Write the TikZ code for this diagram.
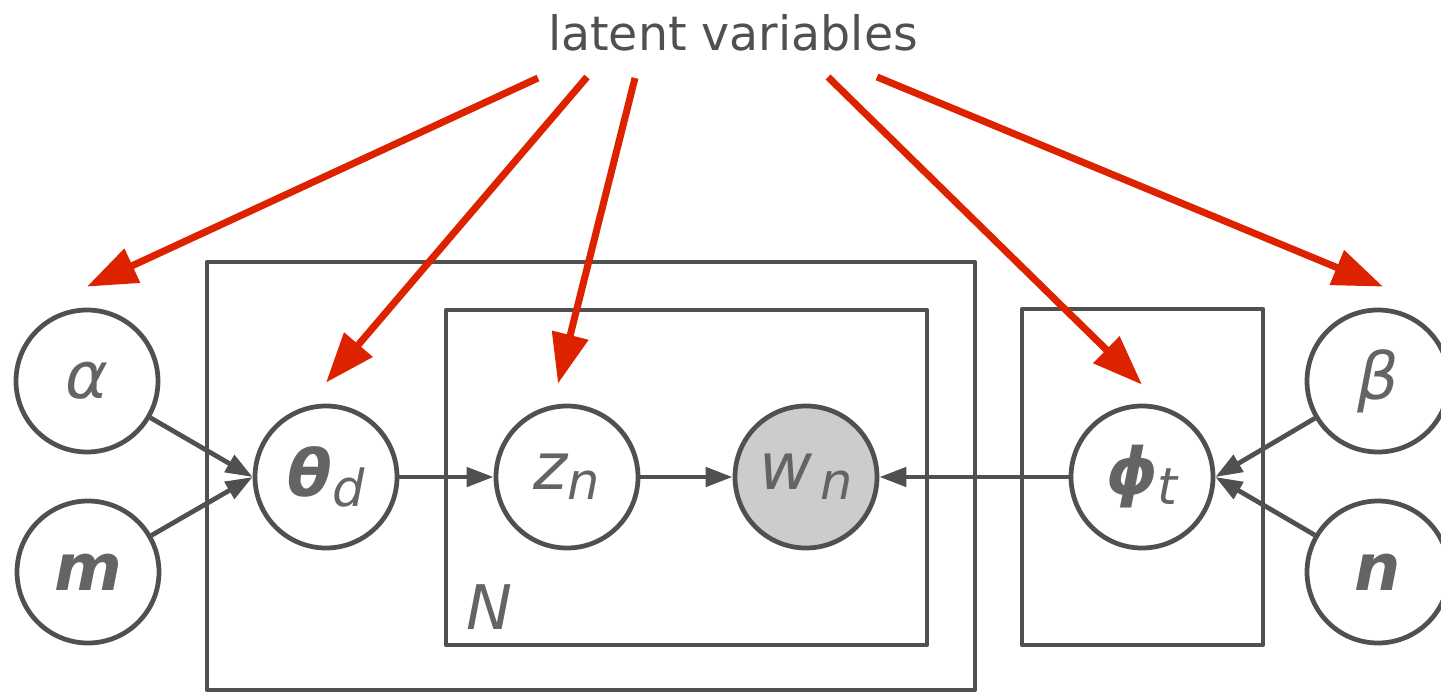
\documentclass[tikz,border=0pt]{standalone}
\usepackage{fontspec}
\setmainfont{DejaVu Sans}
\usetikzlibrary{arrows.meta}
\definecolor{linegray}{HTML}{505050}
\definecolor{textgray}{HTML}{646464}
\definecolor{obsgray}{HTML}{CCCCCC}
\definecolor{latentred}{HTML}{DD2200}
\newcommand{\vsub}[2]{#1\raisebox{-1mm}{\fontsize{14.5}{14.5}\selectfont #2}}

\begin{document}
\begin{tikzpicture}[line width=1.35pt,
  var/.style={circle,draw=linegray,fill=white,minimum size=1.42cm,inner sep=0pt,
    text=textgray,font=\fontsize{18.5}{18.5}\selectfont\itshape},
  obs/.style={var,fill=obsgray},
  plate/.style={draw=linegray,line join=round},
  arr/.style={draw=linegray,-{Triangle[length=2.7mm,width=1.9mm]}},
  redarr/.style={draw=latentred,line width=2pt,-{Triangle[length=5mm,width=3.6mm]}}]
  \useasboundingbox (0,0) rectangle (14.41,6.92);

  % plates: documents, words N, topics
  \draw[plate] (2.07,4.30) rectangle (9.75,0.02);
  \draw[plate] (4.46,3.82) rectangle (9.27,0.47);
  \draw[plate] (10.22,3.83) rectangle (12.63,0.47);
  \node[text=textgray,font=\fontsize{17.5}{17.5}\selectfont\itshape] (nlab) at (4.89,0.85) {N};

  % variables
  \node[var] (alpha) at (0.87,3.11) {α};
  \node[var] (m) at (0.88,1.20) {\bfseries m};
  \node[var] (theta) at (3.26,2.15) {\vsub{{\bfseries θ}}{d}};
  \node[var] (z) at (5.67,2.15) {\vsub{z}{n}};
  \node[obs] (w) at (8.06,2.15) {\vsub{w}{\,n}};
  \node[var] (phi) at (11.42,2.15) {\vsub{{\bfseries ϕ}}{t}};
  \node[var] (beta) at (13.78,3.11) {β};
  \node[var] (n) at (13.78,1.20) {\bfseries n};

  \draw[arr] (alpha) -- (theta.west);
  \draw[arr] (m) -- (theta.west);
  \draw[arr] (theta) -- (z);
  \draw[arr] (z) -- (w);
  \draw[arr] (phi) -- (w);
  \draw[arr] (beta) -- (phi.east);
  \draw[arr] (n) -- (phi.east);

  % label and red arrows
  \node[anchor=base,text=linegray,font=\fontsize{13.5}{13.5}\selectfont] (lv) at (7.33,6.42) {latent variables};
  \coordinate (s1) at (5.38,6.14);
  \coordinate (s2) at (5.87,6.15);
  \coordinate (s3) at (6.35,6.14);
  \coordinate (s4) at (8.28,6.15);
  \coordinate (s5) at (8.77,6.15);

  \draw[redarr] (s1) -- ([yshift=2.1mm]alpha.north);
  \draw[redarr] (s2) -- ([yshift=2.1mm]theta.north);
  \draw[redarr] (s3) -- ([xshift=-0.9mm,yshift=2mm]z.north);
  \draw[redarr] (s4) -- ([yshift=1.9mm]phi.north);
  \draw[redarr] (s5) -- ([xshift=0.5mm,yshift=2.1mm]beta.north);
\end{tikzpicture}
\end{document}
